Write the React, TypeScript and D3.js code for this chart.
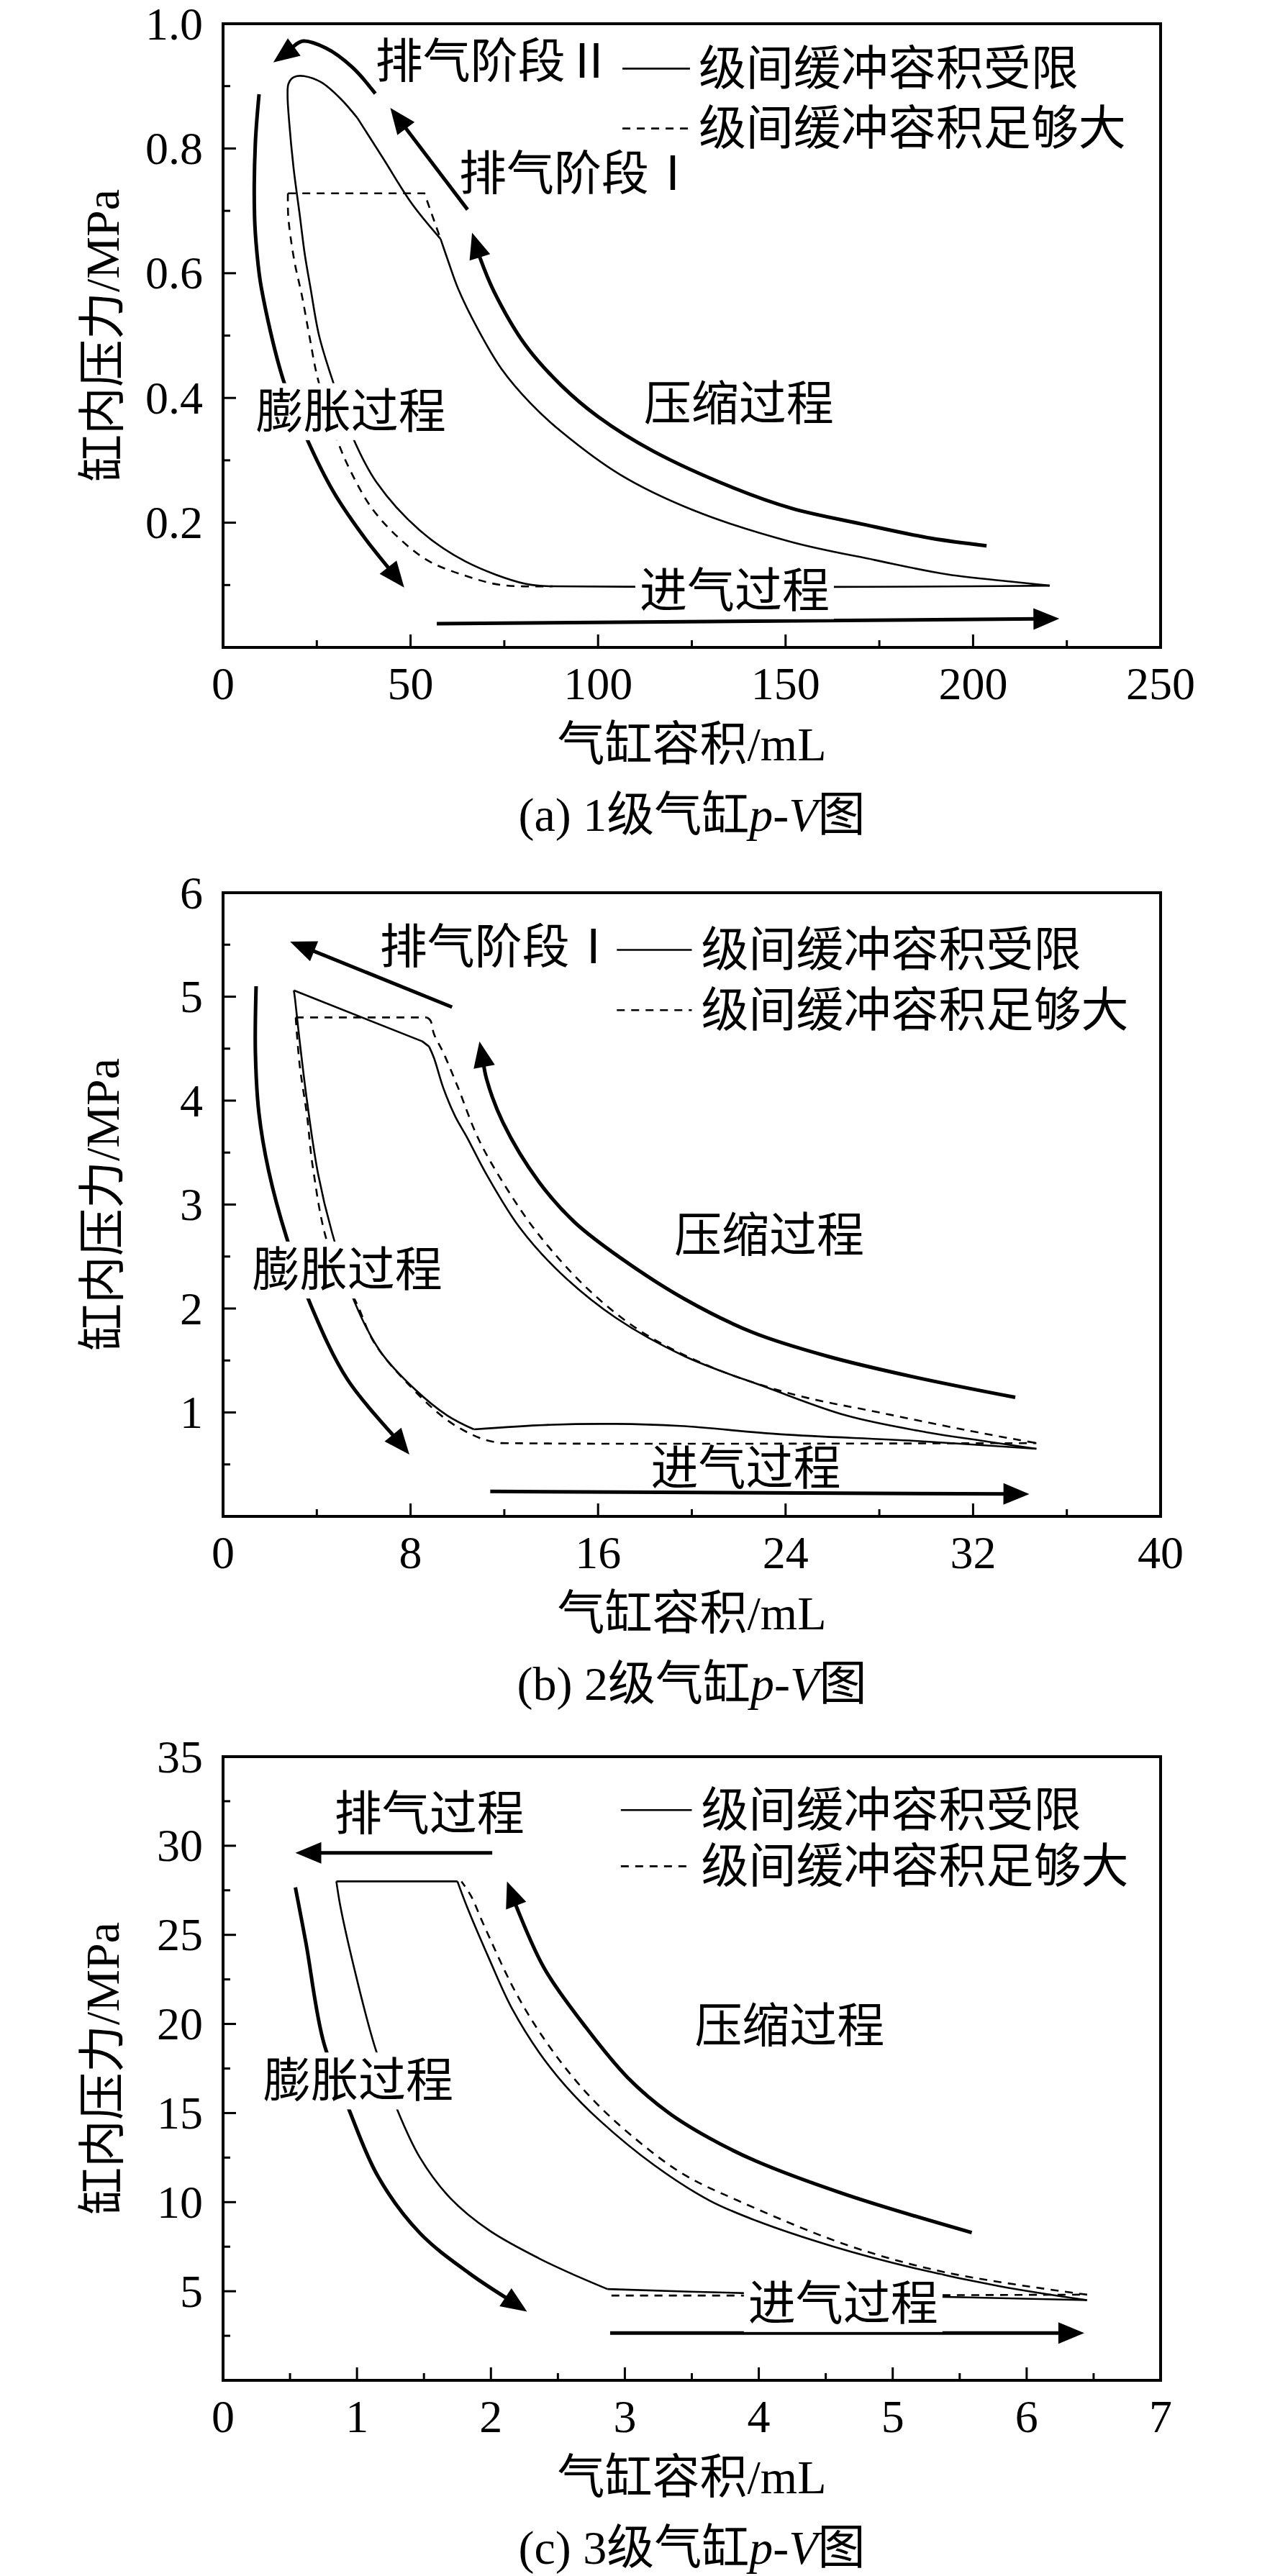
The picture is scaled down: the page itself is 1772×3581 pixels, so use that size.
import * as d3 from 'd3';

type Pt = [number, number];

// ---------- (a) 1级气缸 ----------
const aVTicks = [0, 50, 100, 150, 200, 250];
const aVMinor = [25, 75, 125, 175, 225];
const aPTicks = [0.2, 0.4, 0.6, 0.8, 1.0];
const aPMinor = [0.1, 0.3, 0.5, 0.7, 0.9];

const aSolidCompression: Pt[] = [[220.4, 0.099], [211, 0.105], [193.2, 0.117], [173.9, 0.14], [151.6, 0.169], [125.4, 0.22], [105.9, 0.277], [90.2, 0.346], [81.9, 0.392], [74.2, 0.447], [67.8, 0.512], [62.7, 0.575], [60, 0.62], [58, 0.655]];
const aSolidDischarge: Pt[] = [[58, 0.655], [50.4, 0.711], [42.7, 0.784], [35.8, 0.849]];
const aSolidExpansion: Pt[] = [[35.8, 0.849], [31.3, 0.88], [26.2, 0.906], [21.6, 0.916], [19.7, 0.916], [18.3, 0.912], [17.4, 0.903], [17.2, 0.885], [17.6, 0.845], [18.8, 0.769], [20.5, 0.691], [21.8, 0.63], [23.3, 0.577], [25.6, 0.5], [29.1, 0.43], [34.5, 0.338], [40.9, 0.265], [52.4, 0.188], [64.6, 0.138], [80.6, 0.102], [88, 0.098]];
const aSolidIntake: Pt[] = [[88, 0.098], [120, 0.097], [162.7, 0.097], [200, 0.098], [220.4, 0.099]];

const aDashedDischarge: Pt[] = [[17.3, 0.728], [53.7, 0.728], [58, 0.655]];
const aDashedExpansion: Pt[] = [[17.3, 0.728], [17.4, 0.69], [19, 0.62], [21.0, 0.565], [23.0, 0.5], [25.3, 0.43], [30.1, 0.338], [33.9, 0.284], [39.7, 0.223], [47.3, 0.173], [55, 0.138], [64.6, 0.115], [74.2, 0.1], [88, 0.098]];

const aArrowCompression: Pt[] = [[203.6, 0.163], [188.8, 0.175], [170.2, 0.198], [151.6, 0.223], [136, 0.256], [114.6, 0.315], [100, 0.37], [90.2, 0.42], [80.6, 0.485], [72.3, 0.57], [68.5, 0.625], [66.4, 0.665]];
const aArrowDischarge1: Pt[] = [[65.2, 0.702], [44.6, 0.865]];
const aArrowDischarge2: Pt[] = [[40.6, 0.888], [34.5, 0.93], [27.4, 0.961], [21.1, 0.972], [17.2, 0.967], [16, 0.957], [13.4, 0.938]];
const aArrowExpansion: Pt[] = [[9.6, 0.887], [8.6, 0.807], [8.4, 0.691], [9, 0.635], [10.2, 0.577], [16.0, 0.43], [22.1, 0.338], [29.4, 0.25], [37.1, 0.181], [48.3, 0.096]];
const aArrowIntake: Pt[] = [[57, 0.038], [223, 0.046]];

const aLegendV = [106.5, 124.5, 126.8];
const aLegendP = [0.928, 0.832];

// ---------- (b) 2级气缸 ----------
const bVTicks = [0, 8, 16, 24, 32, 40];
const bVMinor = [4, 12, 20, 28, 36];
const bPTicks = [1, 2, 3, 4, 5, 6];
const bPMinor = [0.5, 1.5, 2.5, 3.5, 4.5, 5.5];

const bSolidCompression: Pt[] = [[34.7, 0.65], [32.3, 0.73], [30, 0.81], [26.6, 0.97], [23.2, 1.24], [19.7, 1.54], [16.76, 1.91], [14.4, 2.34], [12.65, 2.78], [11.24, 3.29], [10.4, 3.65], [9.9, 3.85], [9.4, 4.12], [9.0, 4.41], [8.79, 4.52]];
const bSolidDischarge: Pt[] = [[8.79, 4.52], [8.5, 4.57], [3.02, 5.06]];
const bSolidExpansion: Pt[] = [[3.02, 5.06], [3.07, 4.98], [3.27, 4.57], [3.58, 4.0], [4.05, 3.3], [4.65, 2.73], [5.6, 2.07], [6.7, 1.59], [8.15, 1.23], [9.57, 0.97], [10.7, 0.837]];
const bSolidIntake: Pt[] = [[10.7, 0.837], [13.8, 0.88], [16.7, 0.89], [19.5, 0.87], [23.8, 0.79], [29.5, 0.727], [34.7, 0.65]];

const bDashedDischarge: Pt[] = [[3.1, 4.8], [8.7, 4.8]];
const bDashedCompression: Pt[] = [[8.7, 4.8], [8.85, 4.77], [9.0, 4.64], [9.4, 4.46], [10.0, 4.14], [10.9, 3.63], [12.06, 3.17], [13.47, 2.71], [15.6, 2.18], [17.9, 1.77], [20.9, 1.43], [24.4, 1.17], [28, 1.0], [31.7, 0.83], [34.7, 0.705]];
const bDashedExpansion: Pt[] = [[3.1, 4.8], [3.27, 4.34], [3.58, 3.86], [3.83, 3.36], [4.5, 2.6], [5.74, 2.03], [6.45, 1.67], [7.87, 1.28], [9.57, 0.925], [11, 0.75], [11.85, 0.705]];
const bDashedIntake: Pt[] = [[11.85, 0.705], [15, 0.7], [25, 0.7], [34.7, 0.705]];

const bArrowCompression: Pt[] = [[33.8, 1.145], [29.5, 1.34], [25.8, 1.54], [22.6, 1.77], [19.7, 2.09], [17.0, 2.48], [15.0, 2.83], [13.47, 3.22], [11.94, 3.79], [11.24, 4.21], [10.94, 4.57]];
const bArrowDischarge: Pt[] = [[9.77, 4.9], [2.86, 5.53]];
const bArrowExpansion: Pt[] = [[1.41, 5.1], [1.38, 4.46], [1.53, 3.88], [1.94, 3.33], [2.7, 2.69], [3.75, 2.03], [5.3, 1.32], [7.95, 0.595]];
const bArrowIntake: Pt[] = [[11.4, 0.24], [34.4, 0.215]];

const bLegendV = [16.8, 20.0, 20.4];
const bLegendP = [5.45, 4.87];

// ---------- (c) 3级气缸 ----------
const cVTicks = [0, 1, 2, 3, 4, 5, 6, 7];
const cVMinor = [0.5, 1.5, 2.5, 3.5, 4.5, 5.5, 6.5];
const cPTicks = [5, 10, 15, 20, 25, 30, 35];
const cPMinor = [2.5, 7.5, 12.5, 17.5, 22.5, 27.5, 32.5];

const cSolidDischarge: Pt[] = [[1.75, 28], [0.846, 28]];
const cSolidCompression: Pt[] = [[6.45, 4.5], [5.8, 5.28], [5.16, 6.3], [4.56, 7.5], [3.98, 8.96], [3.63, 10.1], [3.22, 12.07], [2.81, 14.6], [2.56, 16.5], [2.36, 18.4], [2.15, 20.97], [1.99, 23.6], [1.82, 26.6], [1.75, 28]];
const cSolidExpansion: Pt[] = [[0.846, 28], [0.876, 26.6], [0.98, 23.1], [1.13, 18.8], [1.3, 15.2], [1.47, 12.5], [1.7, 10.2], [1.99, 8.4], [2.36, 6.84], [2.6, 5.99], [2.87, 5.12]];
const cSolidIntake: Pt[] = [[2.87, 5.12], [3.92, 4.89], [4.9, 4.76], [6.45, 4.5]];

const cDashedCompression: Pt[] = [[6.45, 4.81], [5.4, 6.05], [4.66, 7.59], [3.84, 10.1], [3.43, 11.6], [3.04, 13.8], [2.73, 16.0], [2.44, 18.7], [2.19, 21.7], [1.95, 25.5], [1.85, 27.2], [1.78, 28]];
const cDashedIntake: Pt[] = [[2.9, 4.76], [4.5, 4.76], [6.45, 4.81]];

const cArrowCompression: Pt[] = [[5.59, 8.29], [4.66, 10.4], [3.98, 12.3], [3.63, 13.6], [3.33, 15.0], [3.02, 17.0], [2.71, 19.8], [2.4, 23.1], [2.2, 26.4], [2.12, 28.0]];
const cArrowDischarge: Pt[] = [[2.01, 29.6], [0.54, 29.6]];
const cArrowExpansion: Pt[] = [[0.54, 27.66], [0.62, 24.5], [0.75, 19.0], [0.94, 15.2], [1.16, 11.4], [1.47, 8.26], [1.84, 6.0], [2.27, 3.86]];
const cArrowIntake: Pt[] = [[2.89, 2.65], [6.43, 2.65]];

const cLegendV = [2.97, 3.5, 3.57];
const cLegendP = [32.0, 28.85];

const legendNames = ['级间缓冲容积受限', '级间缓冲容积足够大'];

// ---------- layout ----------
const W = 1772;
const H = 3581;
const LEFT = 310;
const RIGHT = 1613;
const PLOT_H = 867;
const FS = 66;
const TICK_FS = 64;
const FONT = "'Liberation Serif', 'Noto Sans CJK SC', serif";
const HEAD_L = 36;
const HEAD_W = 15;

interface Label { text: string; at: Pt; bg?: boolean }
interface Seg { pts: Pt[]; straight?: boolean }
interface PanelCfg {
  top: number;
  xDomain: Pt;
  yDomain: Pt;
  xTicks: number[];
  xMinor: number[];
  yTicks: number[];
  yMinor: number[];
  yFmt: (d: number) => string;
  solid: Seg[];
  dashed: Seg[];
  arrows: Pt[][];
  labels: Label[];
  legendV: number[];
  legendP: number[];
  tag: string;
  stage: string;
}

const panels: PanelCfg[] = [
  {
    top: 33, xDomain: [0, 250], yDomain: [0, 1],
    xTicks: aVTicks, xMinor: aVMinor, yTicks: aPTicks, yMinor: aPMinor,
    yFmt: d => d.toFixed(1),
    solid: [{ pts: aSolidCompression }, { pts: aSolidDischarge }, { pts: aSolidExpansion }, { pts: aSolidIntake }],
    dashed: [{ pts: aDashedDischarge, straight: true }, { pts: aDashedExpansion }],
    arrows: [aArrowCompression, aArrowDischarge1, aArrowDischarge2, aArrowExpansion, aArrowIntake],
    labels: [
      { text: '排气阶段Ⅱ', at: [72.3, 0.939] },
      { text: '排气阶段Ⅰ', at: [94.6, 0.76] },
      { text: '压缩过程', at: [137.5, 0.39] },
      { text: '膨胀过程', at: [34.1, 0.378], bg: true },
      { text: '进气过程', at: [136.4, 0.091], bg: true },
    ],
    legendV: aLegendV, legendP: aLegendP, tag: '(a) ', stage: '1',
  },
  {
    top: 1241, xDomain: [0, 40], yDomain: [0, 6],
    xTicks: bVTicks, xMinor: bVMinor, yTicks: bPTicks, yMinor: bPMinor,
    yFmt: d => String(d),
    solid: [{ pts: bSolidCompression }, { pts: bSolidDischarge, straight: true }, { pts: bSolidExpansion }, { pts: bSolidIntake }],
    dashed: [{ pts: bDashedDischarge, straight: true }, { pts: bDashedCompression }, { pts: bDashedExpansion }, { pts: bDashedIntake }],
    arrows: [bArrowCompression, bArrowDischarge, bArrowExpansion, bArrowIntake],
    labels: [
      { text: '排气阶段Ⅰ', at: [11.75, 5.48] },
      { text: '压缩过程', at: [23.3, 2.7] },
      { text: '膨胀过程', at: [5.3, 2.37], bg: true },
      { text: '进气过程', at: [22.3, 0.46] },
    ],
    legendV: bLegendV, legendP: bLegendP, tag: '(b) ', stage: '2',
  },
  {
    top: 2442, xDomain: [0, 7], yDomain: [0, 35],
    xTicks: cVTicks, xMinor: cVMinor, yTicks: cPTicks, yMinor: cPMinor,
    yFmt: d => String(d),
    solid: [{ pts: cSolidDischarge, straight: true }, { pts: cSolidCompression }, { pts: cSolidExpansion }, { pts: cSolidIntake }],
    dashed: [{ pts: cDashedCompression }, { pts: cDashedIntake }],
    arrows: [cArrowCompression, cArrowDischarge, cArrowExpansion, cArrowIntake],
    labels: [
      { text: '排气过程', at: [1.54, 31.8] },
      { text: '压缩过程', at: [4.23, 19.9] },
      { text: '膨胀过程', at: [1.01, 16.8], bg: true },
      { text: '进气过程', at: [4.63, 4.31], bg: true },
    ],
    legendV: cLegendV, legendP: cLegendP, tag: '(c) ', stage: '3',
  },
];

const smooth = d3.line<Pt>().curve(d3.curveCatmullRom.alpha(0.5));
const straightLine = d3.line<Pt>();

// shaft ends inside the head; head is a filled triangle along the final direction
function arrowParts(px: Pt[]) {
  const tip = px[px.length - 1];
  const far = px.slice(0, -1).filter(p => Math.hypot(p[0] - tip[0], p[1] - tip[1]) > HEAD_L);
  const ref = far.length ? far[far.length - 1] : px[0];
  const dx = tip[0] - ref[0];
  const dy = tip[1] - ref[1];
  const len = Math.hypot(dx, dy);
  const ux = dx / len;
  const uy = dy / len;
  const bx = tip[0] - ux * HEAD_L;
  const by = tip[1] - uy * HEAD_L;
  const shaft: Pt[] = [...far, [bx + ux * 8, by + uy * 8]];
  const head = `M${tip[0]},${tip[1]}L${bx - uy * HEAD_W},${by + ux * HEAD_W}L${bx + uy * HEAD_W},${by - ux * HEAD_W}Z`;
  return { shaft: shaft.length > 2 ? smooth(shaft) : straightLine(shaft), head };
}

function Panel({ cfg }: { cfg: PanelCfg }) {
  const bottom = cfg.top + PLOT_H;
  const x = d3.scaleLinear().domain(cfg.xDomain).range([LEFT, RIGHT]);
  const y = d3.scaleLinear().domain(cfg.yDomain).range([bottom, cfg.top]);
  const toPx = (pts: Pt[]): Pt[] => pts.map(d => [x(d[0]), y(d[1])]);
  const segPath = (s: Seg) => (s.straight ? straightLine(toPx(s.pts)) : smooth(toPx(s.pts))) || '';
  const cx = (LEFT + RIGHT) / 2;
  const cy = (cfg.top + bottom) / 2;

  return (
    <g>
      {cfg.solid.map((s, i) => (
        <path key={'s' + i} d={segPath(s)} fill="none" stroke="#000" strokeWidth={2.6} strokeLinejoin="round" />
      ))}
      {cfg.dashed.map((s, i) => (
        <path key={'d' + i} d={segPath(s)} fill="none" stroke="#000" strokeWidth={2.6} strokeDasharray="11,9" />
      ))}
      {cfg.arrows.map((a, i) => {
        const { shaft, head } = arrowParts(toPx(a));
        return (
          <g key={'a' + i}>
            <path d={shaft || ''} fill="none" stroke="#000" strokeWidth={5} />
            <path d={head} fill="#000" />
          </g>
        );
      })}
      {cfg.labels.map((l, i) => {
        const w = Array.from(l.text).length * FS;
        return (
          <g key={'l' + i}>
            {l.bg && (
              <rect x={x(l.at[0]) - w / 2 - 6} y={y(l.at[1]) - FS * 0.6} width={w + 12} height={FS * 1.2} fill="#fff" />
            )}
            <text x={x(l.at[0])} y={y(l.at[1])} textAnchor="middle" dominantBaseline="central" fontSize={FS}>
              {l.text}
            </text>
          </g>
        );
      })}
      {legendNames.map((name, i) => (
        <g key={'lg' + i}>
          <line
            x1={x(cfg.legendV[0])} x2={x(cfg.legendV[1])}
            y1={y(cfg.legendP[i])} y2={y(cfg.legendP[i])}
            stroke="#000" strokeWidth={2.6} strokeDasharray={i === 1 ? '11,9' : undefined}
          />
          <text x={x(cfg.legendV[2])} y={y(cfg.legendP[i])} dominantBaseline="central" fontSize={FS}>
            {name}
          </text>
        </g>
      ))}
      {/* ticks point inward */}
      {cfg.yTicks.map(t => (
        <g key={'yt' + t}>
          <line x1={LEFT} x2={LEFT + 18} y1={y(t)} y2={y(t)} stroke="#000" strokeWidth={3} />
          <text x={LEFT - 28} y={y(t)} textAnchor="end" dominantBaseline="central" fontSize={TICK_FS}>
            {cfg.yFmt(t)}
          </text>
        </g>
      ))}
      {cfg.yMinor.map(t => (
        <line key={'ym' + t} x1={LEFT} x2={LEFT + 10} y1={y(t)} y2={y(t)} stroke="#000" strokeWidth={3} />
      ))}
      {cfg.xTicks.map(t => (
        <g key={'xt' + t}>
          <line x1={x(t)} x2={x(t)} y1={bottom} y2={bottom - 18} stroke="#000" strokeWidth={3} />
          <text x={x(t)} y={bottom + 72} textAnchor="middle" fontSize={TICK_FS}>
            {t}
          </text>
        </g>
      ))}
      {cfg.xMinor.map(t => (
        <line key={'xm' + t} x1={x(t)} x2={x(t)} y1={bottom} y2={bottom - 10} stroke="#000" strokeWidth={3} />
      ))}
      <rect x={LEFT} y={cfg.top} width={RIGHT - LEFT} height={PLOT_H} fill="none" stroke="#000" strokeWidth={4} />
      <text x={cx} y={bottom + 134} textAnchor="middle" dominantBaseline="central" fontSize={FS}>
        气缸容积/mL
      </text>
      <text
        transform={`translate(142,${cy}) rotate(-90)`}
        textAnchor="middle" dominantBaseline="central" fontSize={FS}
      >
        缸内压力/MPa
      </text>
      <text x={cx} y={bottom + 232} textAnchor="middle" dominantBaseline="central" fontSize={FS}>
        {cfg.tag}{cfg.stage}级气缸<tspan fontStyle="italic">p</tspan>-<tspan fontStyle="italic">V</tspan>图
      </text>
    </g>
  );
}

export default function App() {
  return (
    <svg
      width={W}
      height={H}
      viewBox={`0 0 ${W} ${H}`}
      style={{ position: 'absolute', left: 0, top: 0, background: '#fff' }}
      fontFamily={FONT}
    >
      <rect width={W} height={H} fill="#fff" />
      {panels.map((p, i) => (
        <Panel key={i} cfg={p} />
      ))}
    </svg>
  );
}
